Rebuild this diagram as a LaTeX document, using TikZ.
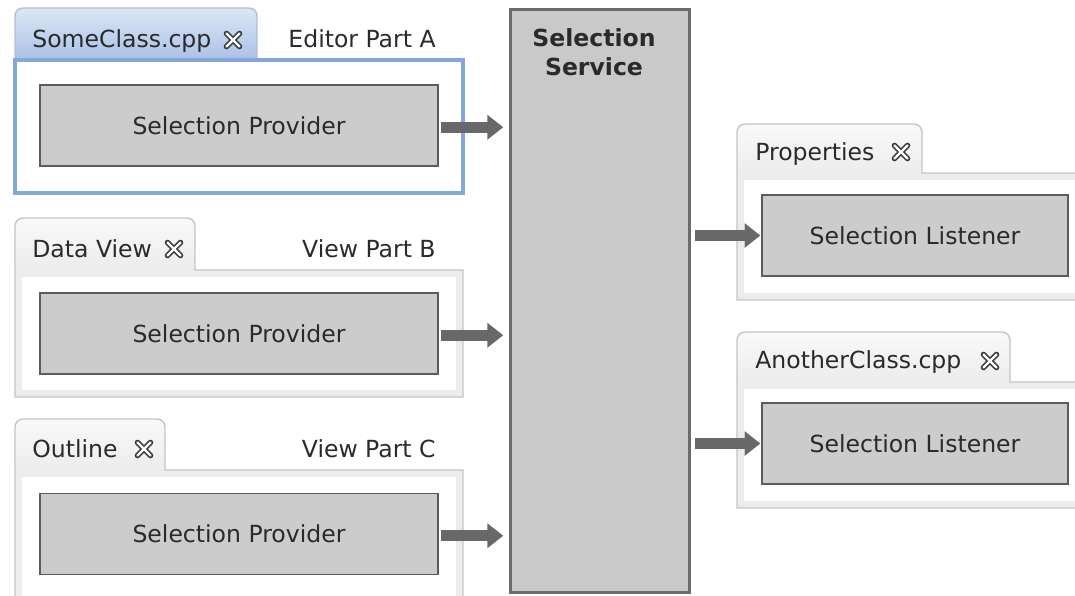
\documentclass[tikz,border=0pt]{standalone}
\usepackage{fontspec}
\setmainfont{DejaVu Sans}
\usetikzlibrary{arrows.meta}
\definecolor{boxgray}{HTML}{CCCCCC}
\definecolor{boxline}{HTML}{5C5C5C}
\definecolor{svcgray}{HTML}{C9C9C9}
\definecolor{svcline}{HTML}{6B6B6B}
\definecolor{arrowgray}{HTML}{686868}
\definecolor{textgray}{HTML}{2A2A2A}
\definecolor{frameline}{HTML}{C4C4C4}
\definecolor{bandgray}{HTML}{ECECEC}
\definecolor{tabtop}{HTML}{F9F9F9}
\definecolor{tabblueA}{HTML}{DCE6F5}
\definecolor{tabblueB}{HTML}{A9C2E6}
\definecolor{tabedge}{HTML}{B3C0D2}
\definecolor{edblue}{HTML}{85A6DA}
\definecolor{iconline}{HTML}{3A3A3A}
\newcommand{\labelfont}{\fontsize{13.4}{16.4}\selectfont}
\tikzset{
    block/.style = {draw=boxline, fill=boxgray, line width=0.9pt, rectangle,
        minimum height=1.62cm, align=center, text=textgray, font=\labelfont},
    provider/.style = {block, minimum width=7.96cm},
    listener/.style = {block, minimum width=6.12cm},
    service/.style = {draw=svcline, fill=svcgray, line width=1.7pt,
        minimum width=3.6cm, minimum height=11.68cm},
    arrow/.style = {draw=arrowgray, line width=6pt, -{Triangle[length=9pt,width=13.5pt]}},
    tabtext/.style = {anchor=base west, inner sep=0pt, text=textgray, font=\labelfont},
    parttext/.style = {anchor=base east, inner sep=0pt, text=textgray, font=\labelfont},
    closeicon/.pic = {
        \draw[iconline, line width=3.2pt, line cap=round] (-6.5,-6.5) -- (6.5,6.5) (-6.5,6.5) -- (6.5,-6.5);
        \draw[white, line width=1.3pt, line cap=round] (-6.5,-6.5) -- (6.5,6.5) (-6.5,6.5) -- (6.5,-6.5);
    }
}
% #1 left, #2 tab right, #3 tab top, #4 body top, #5 body right, #6 body bottom
\newcommand{\viewpart}[6]{%
    \fill[bandgray] (#1,#4) rectangle (#5,#6);
    \shade[top color=tabtop, bottom color=bandgray] (#1,#4) -- (#1,#3+8)
        arc[start angle=180, end angle=90, radius=0.16cm] -- (#2-8,#3)
        arc[start angle=90, end angle=0, radius=0.16cm] -- (#2,#4) -- cycle;
    \draw[frameline, line width=0.8pt] (#1,#6) -- (#1,#3+8)
        arc[start angle=180, end angle=90, radius=0.16cm] -- (#2-8,#3)
        arc[start angle=90, end angle=0, radius=0.16cm] -- (#2,#4) -- (#5,#4) -- (#5,#6) -- cycle;
    \fill[white] (#1+7,#4+7) rectangle (#5-7,#6-7);
}

\begin{document}
\begin{tikzpicture}[x=0.02cm, y=-0.02cm]
    \useasboundingbox (0,0) rectangle (1075,595);
    \clip (0,0) rectangle (1075,595);

    % editor tab
    \shade[top color=tabblueA, bottom color=tabblueB] (15,60) -- (15,16)
        arc[start angle=180, end angle=90, radius=0.16cm] -- (249,8)
        arc[start angle=90, end angle=0, radius=0.16cm] -- (257,60) -- cycle;
    \draw[tabedge, line width=0.8pt] (15,60) -- (15,16)
        arc[start angle=180, end angle=90, radius=0.16cm] -- (249,8)
        arc[start angle=90, end angle=0, radius=0.16cm] -- (257,60);
    \draw[edblue, line width=2.2pt, fill=white] (15,60) rectangle (463,193);

    \viewpart{15}{195}{218}{270}{463}{397}
    \viewpart{15}{165}{419}{470}{463}{625}
    \viewpart{737}{922}{124}{173}{1100}{300}
    \viewpart{737}{1010}{332}{382}{1100}{508}

    \node[tabtext] (tabA) at (32,48) {SomeClass.cpp};
    \pic at (233,40) {closeicon};
    \node[parttext] (partA) at (436,48) {Editor Part A};
    \node[tabtext] (tabB) at (32,257) {Data View};
    \pic at (174,249) {closeicon};
    \node[parttext] (partB) at (436,257) {View Part B};
    \node[tabtext] (tabC) at (32,457) {Outline};
    \pic at (144,449) {closeicon};
    \node[parttext] (partC) at (436,457) {View Part C};
    \node[tabtext] (tabP) at (755,160) {Properties};
    \pic at (901,152) {closeicon};
    \node[tabtext] (tabQ) at (755,368) {AnotherClass.cpp};
    \pic at (990,361) {closeicon};

    \node[service] (service) at (600,301) {};
    \node[anchor=north, inner sep=0pt, align=center, text=textgray, font=\bfseries\labelfont] (svcname) at (594,28) {Selection\\Service};

    \node[provider] (provA) at (239,125.5) {Selection Provider};
    \node[provider] (provB) at (239,333.5) {Selection Provider};
    \node[provider] (provC) at (239,534) {Selection Provider};
    \node[listener] (lisP) at (915,235.5) {Selection Listener};
    \node[listener] (lisQ) at (915,443.5) {Selection Listener};

    \draw[arrow, shorten <=1pt, shorten >=3pt] ([yshift=-1pt]provA.east) -- ([yshift=-1pt]provA.east -| service.west);
    \draw[arrow, shorten <=1pt, shorten >=3pt] ([yshift=-1pt]provB.east) -- ([yshift=-1pt]provB.east -| service.west);
    \draw[arrow, shorten <=1pt, shorten >=3pt] ([yshift=-1pt]provC.east) -- ([yshift=-1pt]provC.east -| service.west);
    \draw[arrow, shorten <=2pt, shorten >=0.5pt] (service.east |- lisP.west) -- (lisP.west);
    \draw[arrow, shorten <=2pt, shorten >=0.5pt] (service.east |- lisQ.west) -- (lisQ.west);
\end{tikzpicture}
\end{document}
